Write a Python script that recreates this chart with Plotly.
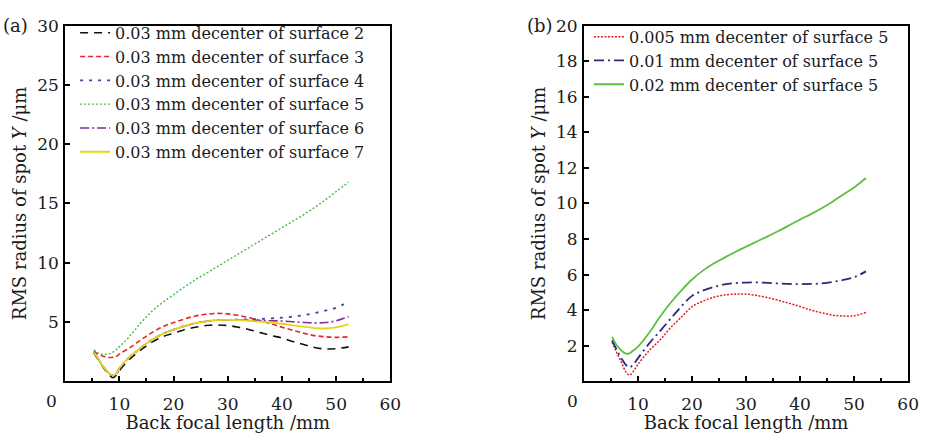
import plotly.graph_objects as go

# ---------------- Panel (a) data ----------------
xa = [5.3, 6, 7, 8, 8.8, 9.5, 10, 12, 14, 16, 18, 20, 22, 24, 26, 28, 30, 32, 34, 36, 38, 40, 42, 44, 46, 48, 50, 52.3]
a_s2 = [2.4, 1.9, 1.2, 0.6, 0.3, 0.55, 0.9, 1.9, 2.65, 3.3, 3.75, 4.05, 4.35, 4.55, 4.7, 4.75, 4.7, 4.55, 4.35, 4.1, 3.85, 3.65, 3.35, 3.1, 2.85, 2.72, 2.75, 2.9]
a_s3 = [2.55, 2.3, 2.1, 2.0, 2.02, 2.1, 2.3, 2.85, 3.5, 4.1, 4.6, 4.95, 5.25, 5.5, 5.65, 5.72, 5.68, 5.55, 5.35, 5.1, 4.85, 4.55, 4.3, 4.05, 3.85, 3.75, 3.7, 3.75]
a_s4 = [2.45, 1.95, 1.25, 0.7, 0.45, 0.65, 1.05, 2.05, 2.85, 3.5, 4.0, 4.35, 4.65, 4.9, 5.05, 5.15, 5.18, 5.2, 5.22, 5.25, 5.3, 5.36, 5.45, 5.58, 5.75, 5.95, 6.2, 6.73]
a_s5 = [2.65, 2.4, 2.27, 2.3, 2.45, 2.7, 2.9, 3.85, 4.95, 5.9, 6.65, 7.3, 7.95, 8.55, 9.1, 9.65, 10.2, 10.75, 11.3, 11.85, 12.4, 12.95, 13.5, 14.05, 14.65, 15.3, 16.0, 16.8]
a_s6 = [2.45, 1.95, 1.25, 0.7, 0.5, 0.7, 1.1, 2.1, 2.85, 3.5, 4.0, 4.35, 4.65, 4.9, 5.05, 5.15, 5.17, 5.17, 5.15, 5.12, 5.1, 5.08, 5.02, 4.96, 4.92, 4.95, 5.1, 5.45]
a_s7 = [2.45, 1.95, 1.25, 0.7, 0.5, 0.7, 1.1, 2.1, 2.85, 3.5, 4.0, 4.35, 4.65, 4.9, 5.05, 5.15, 5.17, 5.15, 5.1, 5.02, 4.95, 4.85, 4.72, 4.6, 4.48, 4.45, 4.55, 4.8]

# ---------------- Panel (b) data ----------------
xb = [5.2, 6, 7, 7.8, 8.4, 9, 10, 12, 14, 16, 18, 20, 22, 24, 26, 28, 30, 32, 34, 36, 38, 40, 42, 44, 46, 48, 50, 52.2]
b_005 = [2.2, 1.65, 1.0, 0.5, 0.35, 0.5, 0.95, 1.7, 2.3, 3.0, 3.6, 4.2, 4.5, 4.72, 4.85, 4.9, 4.9, 4.82, 4.7, 4.55, 4.38, 4.2, 4.0, 3.85, 3.72, 3.67, 3.68, 3.87]
b_01 = [2.3, 1.8, 1.25, 0.9, 0.78, 0.9, 1.3, 2.1, 2.8, 3.5, 4.2, 4.8, 5.1, 5.3, 5.45, 5.52, 5.55, 5.56, 5.53, 5.5, 5.47, 5.46, 5.47, 5.5, 5.58, 5.7, 5.85, 6.18]
b_02 = [2.5, 2.05, 1.7, 1.55, 1.57, 1.7, 1.95, 2.7, 3.6, 4.4, 5.1, 5.72, 6.22, 6.62, 6.95, 7.27, 7.57, 7.86, 8.15, 8.45, 8.77, 9.1, 9.4, 9.73, 10.1, 10.5, 10.9, 11.43]

names_a = ["0.03 mm decenter of surface %d" % k for k in (2, 3, 4, 5, 6, 7)]
names_b = ["0.005 mm decenter of surface 5", "0.01 mm decenter of surface 5", "0.02 mm decenter of surface 5"]

FONT = "DejaVu Serif"
TXT = "#1a1a1a"
W, H = 930, 433

fig = go.Figure()

styles_a = [
    ("#111111", "8px,6px", 1.6),
    ("#ee2222", "5px,3px", 1.6),
    ("#4040a8", "3px,6px", 1.8),
    ("#44bb44", "2px,2px", 1.4),
    ("#7a2e96", "9px,3px,2px,3px", 1.6),
    ("#e8d31a", "solid", 1.8),
]
for ys, nm, (c, d, w) in zip([a_s2, a_s3, a_s4, a_s5, a_s6, a_s7], names_a, styles_a):
    fig.add_trace(go.Scatter(x=xa, y=ys, name=nm, mode="lines", line=dict(color=c, dash=d, width=w, shape="spline"),
                             xaxis="x", yaxis="y", legend="legend"))

styles_b = [
    ("#e02020", "2px,1.5px", 1.5),
    ("#2a2a7a", "10px,4px,2px,4px", 1.8),
    ("#5cbf44", "solid", 1.8),
]
for ys, nm, (c, d, w) in zip([b_005, b_01, b_02], names_b, styles_b):
    fig.add_trace(go.Scatter(x=xb, y=ys, name=nm, mode="lines", line=dict(color=c, dash=d, width=w, shape="spline"),
                             xaxis="x2", yaxis="y2", legend="legend2"))

ydom = [(H - 380) / H, (H - 16) / H]
dom_a = [66 / W, 395 / W]
dom_b = [591 / W, 919 / W]

axis_common = dict(showline=True, linecolor="black", linewidth=2, mirror=True, ticks="inside", ticklen=5,
                   tickcolor="black", tickwidth=1.5, showgrid=False, zeroline=False,
                   tickfont=dict(family=FONT, size=17, color=TXT))

xa_ax = dict(axis_common, domain=dom_a, range=[0, 60], tickvals=[10, 20, 30, 40, 50, 60],
             minor=dict(tickvals=[5, 15, 25, 35, 45, 55], ticklen=3, ticks="inside", tickcolor="black"),
             ticklabelstandoff=6,
             title=dict(text="Back focal length /mm", font=dict(family=FONT, size=18, color=TXT), standoff=0),
             anchor="y")
xb_ax = dict(xa_ax, domain=dom_b, anchor="y2")
ya_ax = dict(axis_common, domain=ydom, range=[0, 30], tickvals=[5, 10, 15, 20, 25, 30], anchor="x",
             ticklabelstandoff=1,
             title=dict(text="RMS radius of spot <i>Y</i> /μm", font=dict(family=FONT, size=18, color=TXT), standoff=6))
yb_ax = dict(ya_ax, range=[0, 20], tickvals=[2, 4, 6, 8, 10, 12, 14, 16, 18, 20], anchor="x2")

LEGFONT = dict(family=FONT, size=16, color=TXT)

fig.update_layout(
    width=W, height=H, margin=dict(l=0, r=0, t=0, b=0),
    paper_bgcolor="white", plot_bgcolor="white",
    xaxis=xa_ax, yaxis=ya_ax, xaxis2=xb_ax, yaxis2=yb_ax,
    showlegend=True,
    legend=dict(x=76 / W, y=(H - 6) / H, xanchor="left", yanchor="top", bgcolor="rgba(0,0,0,0)",
                font=LEGFONT, itemwidth=30, tracegroupgap=0),
    legend2=dict(x=596 / W, y=(H - 10) / H, xanchor="left", yanchor="top", bgcolor="rgba(0,0,0,0)",
                 font=LEGFONT, itemwidth=30, tracegroupgap=0),
    annotations=[
        dict(text="(a)", x=1 / W, y=(H - 16) / H, xref="paper", yref="paper", xanchor="left", yanchor="middle",
             showarrow=False, font=dict(family=FONT, size=18, color=TXT)),
        dict(text="(b)", x=531 / W, y=(H - 16) / H, xref="paper", yref="paper", xanchor="left", yanchor="middle",
             showarrow=False, font=dict(family=FONT, size=18, color=TXT)),
        dict(text="0", x=0, xref="x", xshift=-14, y=(H - 400) / H, yref="paper", xanchor="center",
             yanchor="middle", showarrow=False, font=dict(family=FONT, size=17, color=TXT)),
        dict(text="0", x=0, xref="x2", xshift=-12, y=(H - 400) / H, yref="paper", xanchor="center",
             yanchor="middle", showarrow=False, font=dict(family=FONT, size=17, color=TXT)),
    ],
)

fig.write_html("out.html")
